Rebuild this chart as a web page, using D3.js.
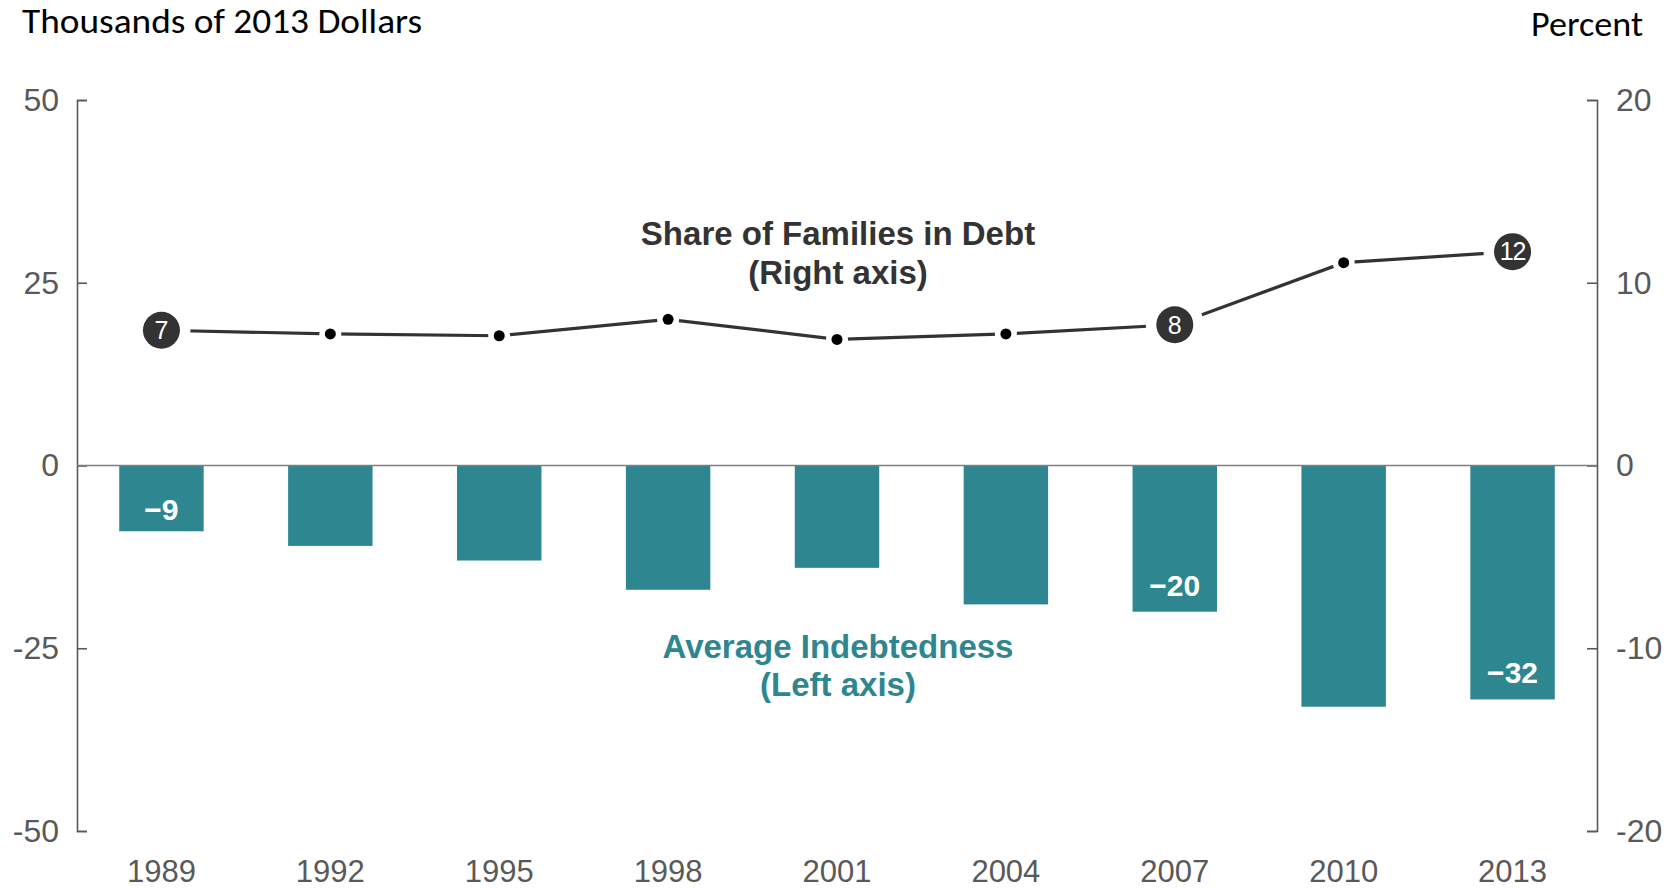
<!DOCTYPE html>
<html>
<head>
<meta charset="utf-8">
<script src="https://cdn.jsdelivr.net/npm/d3@7"></script>
<style>
  html, body { margin: 0; padding: 0; background: #fff; }
  svg { display: block; }
</style>
</head>
<body>
<svg id="chart" width="1675" height="889"></svg>
<script>
// Survey years
const years = ["1989", "1992", "1995", "1998", "2001", "2004", "2007", "2010", "2013"];
// Average indebtedness, thousands of 2013 dollars (left axis)
const avgIndebtedness = [-9, -11, -13, -17, -14, -19, -20, -33, -32];
// Share of families in debt, percent (right axis)
const shareInDebt = [7.4, 7.2, 7.1, 8.0, 6.9, 7.2, 7.7, 11.1, 11.7];
// Axis ticks
const leftTicks = [50, 25, 0, -25, -50];
const rightTicks = [20, 10, 0, -10, -20];
// Years whose values are written on the chart
const barLabelYears = ["1989", "2007", "2013"];
const lineLabelYears = ["1989", "2007", "2013"];

const teal = "#2e8690";
const dark = "#333333";
const axisGray = "#595959";
const sans = "'Liberation Sans', Arial, sans-serif";

const svg = d3.select("#chart");
const plot = { left: 77, right: 1597, top: 100, bottom: 831 };

const x = d3.scaleBand()
  .domain(years)
  .range([plot.left, plot.right])
  .paddingInner(0.5)
  .paddingOuter(0.25);

const yLeft = d3.scaleLinear().domain([-50, 50]).range([plot.bottom, plot.top]);
const yRight = d3.scaleLinear().domain([-20, 20]).range([plot.bottom, plot.top]);

// Axes (ticks point into the plot); plain hyphen for negative labels
const plainNum = d => String(d);
const leftAxis = svg.append("g")
  .attr("transform", `translate(${plot.left},0)`)
  .call(d3.axisLeft(yLeft).tickValues(leftTicks).tickFormat(plainNum)
    .tickSizeInner(-10).tickSizeOuter(-10).tickPadding(18));
const rightAxis = svg.append("g")
  .attr("transform", `translate(${plot.right},0)`)
  .call(d3.axisRight(yRight).tickValues(rightTicks).tickFormat(plainNum)
    .tickSizeInner(-10).tickSizeOuter(-10).tickPadding(19));

[leftAxis, rightAxis].forEach(g => {
  g.select(".domain").attr("stroke", axisGray).attr("stroke-width", 1.6);
  g.selectAll(".tick line").attr("stroke", axisGray).attr("stroke-width", 1.6);
  g.selectAll(".tick text")
    .attr("fill", axisGray)
    .style("font-family", sans)
    .style("font-size", "32px");
});

// Year labels
svg.append("g")
  .selectAll("text")
  .data(years)
  .join("text")
  .attr("x", d => x(d) + x.bandwidth() / 2)
  .attr("y", 882)
  .attr("text-anchor", "middle")
  .attr("fill", axisGray)
  .style("font-family", sans)
  .style("font-size", "31px")
  .text(d => d);

// Bars
const barData = years.map((yr, i) => ({ yr, v: avgIndebtedness[i] }));
svg.append("g")
  .selectAll("rect")
  .data(barData)
  .join("rect")
  .attr("x", d => x(d.yr))
  .attr("width", x.bandwidth())
  .attr("y", d => yLeft(Math.max(0, d.v)))
  .attr("height", d => Math.abs(yLeft(d.v) - yLeft(0)))
  .attr("fill", teal);

// Zero line
svg.append("line")
  .attr("x1", plot.left).attr("x2", plot.right)
  .attr("y1", yLeft(0)).attr("y2", yLeft(0))
  .attr("stroke", "#7f7f7f")
  .attr("stroke-width", 1.6);

// Values written inside selected bars
svg.append("g")
  .selectAll("text")
  .data(barData.filter(d => barLabelYears.includes(d.yr)))
  .join("text")
  .attr("x", d => x(d.yr) + x.bandwidth() / 2)
  .attr("y", d => {
    const bottom = yLeft(d.v);
    return bottom - Math.min(16, (bottom - yLeft(0)) * 0.17);
  })
  .attr("text-anchor", "middle")
  .attr("fill", "#ffffff")
  .style("font-family", sans)
  .style("font-weight", "bold")
  .style("font-size", "30px")
  .text(d => "\u2212" + Math.abs(d.v));

// Line series
const lineData = years.map((yr, i) => ({ yr, v: shareInDebt[i] }));
const cx = d => x(d.yr) + x.bandwidth() / 2;

svg.append("path")
  .datum(lineData)
  .attr("fill", "none")
  .attr("stroke", dark)
  .attr("stroke-width", 3.2)
  .attr("d", d3.line().x(cx).y(d => yRight(d.v)));

const isLabeled = d => lineLabelYears.includes(d.yr);

// White halos separate the markers from the line
svg.append("g")
  .selectAll("circle")
  .data(lineData)
  .join("circle")
  .attr("cx", cx)
  .attr("cy", d => yRight(d.v))
  .attr("r", d => isLabeled(d) ? 29 : 11)
  .attr("fill", "#ffffff");

svg.append("g")
  .selectAll("circle")
  .data(lineData)
  .join("circle")
  .attr("cx", cx)
  .attr("cy", d => yRight(d.v))
  .attr("r", d => isLabeled(d) ? 18.5 : 5.5)
  .attr("fill", d => isLabeled(d) ? dark : "#000000");

svg.append("g")
  .selectAll("text")
  .data(lineData.filter(isLabeled))
  .join("text")
  .attr("x", cx)
  .attr("y", d => yRight(d.v))
  .attr("dy", "0.35em")
  .attr("text-anchor", "middle")
  .attr("fill", "#ffffff")
  .style("font-family", sans)
  .style("font-size", "25px")
  .attr("letter-spacing", d => Math.round(d.v) >= 10 ? "-1px" : null)
  .text(d => Math.round(d.v));

// Series annotations
const annot = svg.append("g")
  .attr("text-anchor", "middle")
  .style("font-family", sans)
  .style("font-weight", "bold")
  .style("font-size", "33px");
annot.append("text").attr("x", 838).attr("y", 245).attr("fill", dark).text("Share of Families in Debt");
annot.append("text").attr("x", 838).attr("y", 284).attr("fill", dark).text("(Right axis)");
annot.append("text").attr("x", 838).attr("y", 658).attr("fill", teal).text("Average Indebtedness");
annot.append("text").attr("x", 838).attr("y", 696).attr("fill", teal).text("(Left axis)");

// Axis unit titles
const unitFont = "Carlito, Calibri, Lato, 'Open Sans', sans-serif";
svg.append("text")
  .attr("x", 22).attr("y", 33)
  .attr("fill", "#000")
  .attr("textLength", 400)
  .attr("lengthAdjust", "spacingAndGlyphs")
  .style("font-family", unitFont)
  .style("font-size", "34px")
  .text("Thousands of 2013 Dollars");
svg.append("text")
  .attr("x", 1531).attr("y", 36)
  .attr("fill", "#000")
  .attr("textLength", 112)
  .attr("lengthAdjust", "spacingAndGlyphs")
  .style("font-family", unitFont)
  .style("font-size", "34px")
  .text("Percent");
</script>
</body>
</html>
